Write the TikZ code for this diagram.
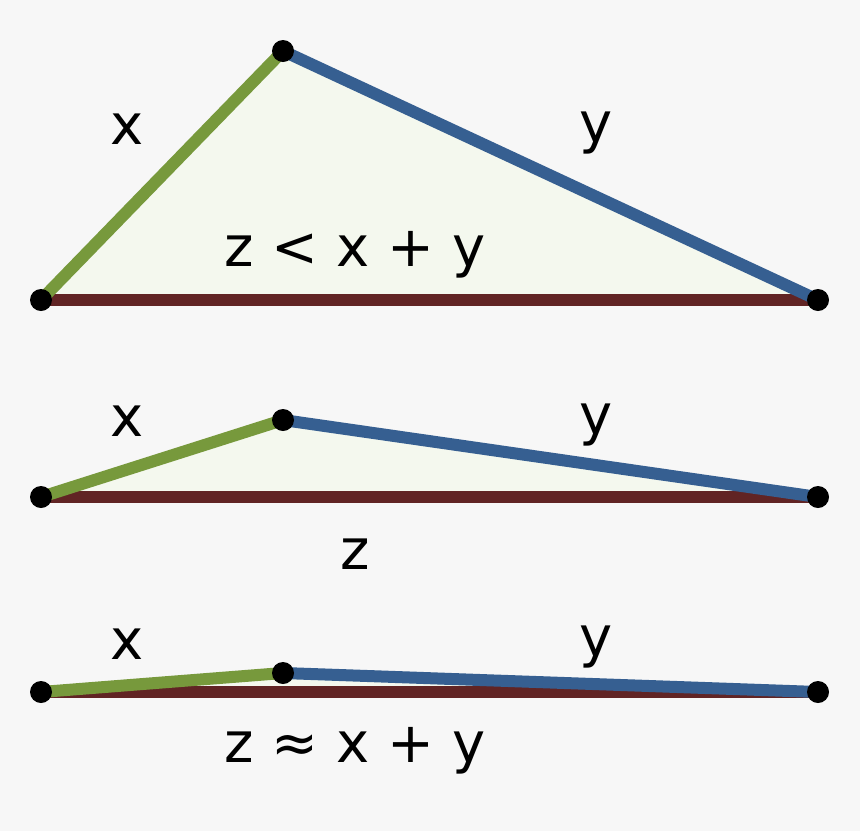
\documentclass[tikz,border=0pt]{standalone}
\usepackage{fontspec}
\setmainfont{DejaVu Sans}
\usetikzlibrary{positioning,backgrounds}
\definecolor{sidex}{HTML}{77993C}
\definecolor{sidey}{HTML}{365F91}
\definecolor{sidez}{HTML}{612424}
\definecolor{inner}{HTML}{F4F8EE}
\definecolor{paper}{HTML}{F7F7F7}

\begin{document}
\begin{tikzpicture}[x=1pt,y=-1pt,
	vertex/.style={circle,fill=black,inner sep=0pt,minimum size=22pt},
	lbl/.style={inner sep=0pt,font=\fontsize{56}{60}\selectfont},
	side/.style={line width=12pt}]
	\fill[paper] (0,0) rectangle (860,831);
	\useasboundingbox (0,0) rectangle (860,831);
	% wide triangle
	\coordinate (a1) at (41,300);
	\coordinate (b1) at (283,51);
	\coordinate (c1) at (818,300);
	\fill[inner] (a1)--(b1)--(c1)--cycle;
	\draw[side,sidez] (a1)--(c1);
	\draw[side,sidex] (a1)--(b1);
	\draw[side,sidey] (b1)--(c1);
	\node[vertex] at (a1) {};
	\node[vertex] at (b1) {};
	\node[vertex] at (c1) {};
	\node[lbl] (x1) at (127,129) {x};
	\node[lbl] (y1) at (596,133) {y};
	\node[lbl] (z1) at (355,255) {z < x + y};
	% flatter triangle
	\coordinate (a2) at (41,497);
	\coordinate (b2) at (283,420);
	\coordinate (c2) at (818,497);
	\fill[inner] (a2)--(b2)--(c2)--cycle;
	\draw[side,sidez] (a2)--(c2);
	\draw[side,sidex] (a2)--(b2);
	\draw[side,sidey] (b2)--(c2);
	\node[vertex] at (a2) {};
	\node[vertex] at (b2) {};
	\node[vertex] at (c2) {};
	\node[lbl] (x2) at (127,421) {x};
	\node[lbl] (y2) at (596,425) {y};
	\node[lbl] (z2) at (355,554) {z};
	% almost degenerate
	\coordinate (a3) at (41,692);
	\coordinate (b3) at (283,673);
	\coordinate (c3) at (818,692);
	\fill[inner] (a3)--(b3)--(c3)--cycle;
	\draw[side,sidez] (a3)--(c3);
	\draw[side,sidex] (a3)--(b3);
	\draw[side,sidey] (b3)--(c3);
	\node[vertex] at (a3) {};
	\node[vertex] at (b3) {};
	\node[vertex] at (c3) {};
	\node[lbl] (x3) at (127,644) {x};
	\node[lbl] (y3) at (596,647) {y};
	\node[lbl] (z3) at (355,751) {z ≈ x + y};
\end{tikzpicture}
\end{document}
